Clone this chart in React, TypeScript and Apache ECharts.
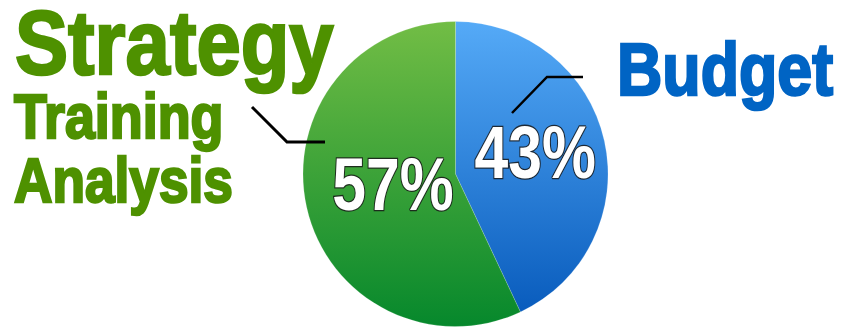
import React, { useEffect, useRef } from "react";
import * as echarts from "echarts";

const categories = ["Budget", "Strategy Training Analysis"];
const values = [43, 57];
const leftLabelLines = ["Strategy", "Training", "Analysis"];
const rightLabel = "Budget";

const FONT = '"Liberation Sans", Arial, sans-serif';

export default function App() {
  const ref = useRef<HTMLDivElement>(null);
  useEffect(() => {
    document.body.style.margin = "0";
    const chart = echarts.init(ref.current!, null, { renderer: "svg" });
    const cx = 455.5;
    const cy = 174;
    const r = 152.5;
    const greenText = "#4e9100";
    const blueText = "#0064c4";
    const blueGrad = new echarts.graphic.LinearGradient(0, cy - r, 0, cy + r, [
      { offset: 0, color: "#55aaf7" },
      { offset: 1, color: "#0558ba" },
    ], true);
    const greenGrad = new echarts.graphic.LinearGradient(0, cy - r, 0, cy + r, [
      { offset: 0, color: "#72bd45" },
      { offset: 1, color: "#06882c" },
    ], true);

    // percentage label positions derived from the data (bisector of each slice)
    const total = values.reduce((a, b) => a + b, 0);
    const radiusFactor = [0.535, 0.42];
    let start = 90;
    const pctLabels = values.map((v, i) => {
      const sweep = (v / total) * 360;
      const mid = ((start - sweep / 2) * Math.PI) / 180;
      start -= sweep;
      const rr = r * radiusFactor[i];
      return {
        type: "text",
        z: 20,
        x: cx + Math.cos(mid) * rr,
        y: cy - Math.sin(mid) * rr - 4,
        scaleX: 0.82,
        style: {
          text: Math.round((v / total) * 100) + "%",
          font: `bold 74px ${FONT}`,
          lineHeight: 60,
          fill: "#ffffff",
          textAlign: "center",
          textVerticalAlign: "middle",
          stroke: "rgba(25,25,25,0.85)",
          lineWidth: 2.5,
          shadowColor: "rgba(0,0,0,0.4)",
          shadowBlur: 3,
          shadowOffsetX: 2,
          shadowOffsetY: 2,
        },
      };
    });

    const outerText = (text: string, x: number, y: number, size: number, sx: number, color: string) => ({
      type: "text",
      z: 20,
      x,
      y,
      scaleX: sx,
      style: {
        text,
        font: `bold ${size}px ${FONT}`,
        lineHeight: Math.round(size * 0.82),
        fill: color,
        textVerticalAlign: "middle",
        stroke: color,
        lineWidth: 2.5,
      },
    });

    chart.setOption({
      animation: false,
      backgroundColor: "#ffffff",
      series: [
        {
          type: "pie",
          center: [cx, cy],
          radius: [0, r],
          startAngle: 90,
          clockwise: true,
          silent: true,
          avoidLabelOverlap: false,
          itemStyle: { borderColor: "rgba(255,255,255,0.35)", borderWidth: 0.5 },
          label: { show: false },
          labelLine: { show: false },
          data: [
            { name: categories[0], value: values[0], itemStyle: { color: blueGrad } },
            { name: categories[1], value: values[1], itemStyle: { color: greenGrad } },
          ],
        },
      ],
      graphic: [
        outerText(leftLabelLines[0], 15, 42.5, 91, 0.875, greenText),
        outerText(leftLabelLines[1], 14, 115.5, 63, 0.855, greenText),
        outerText(leftLabelLines[2], 14, 179.5, 63, 0.845, greenText),
        outerText(rightLabel, 617, 69.5, 74, 0.848, blueText),
        {
          type: "polyline",
          z: 30,
          shape: { points: [[252, 107], [287, 142], [325, 142]] },
          style: { stroke: "#000", lineWidth: 3, fill: null },
        },
        {
          type: "polyline",
          z: 30,
          shape: { points: [[512, 113], [547, 77], [583, 77]] },
          style: { stroke: "#000", lineWidth: 2.5, fill: null },
        },
        ...pctLabels,
      ],
    });
    return () => chart.dispose();
  }, []);
  return <div ref={ref} style={{ width: 844, height: 327 }} />;
}
